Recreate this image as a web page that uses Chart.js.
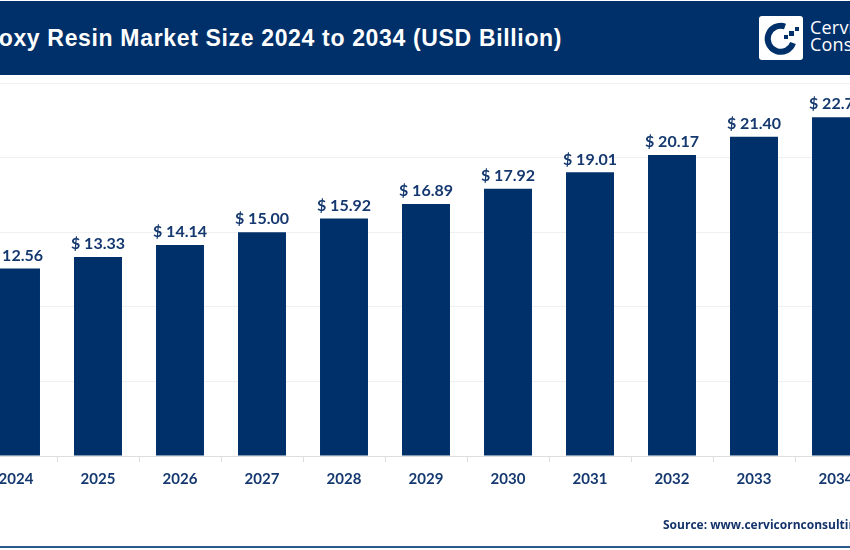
<!DOCTYPE html>
<html>
<head>
<meta charset="utf-8">
<script src="https://cdn.jsdelivr.net/npm/chart.js@4/dist/chart.umd.min.js"></script>
<style>
  html, body { margin: 0; padding: 0; background: #fff; }
  body { position: relative; width: 850px; height: 550px; overflow: hidden; }
  #chart { position: absolute; left: -25px; top: 0; }
  .banner { position: absolute; left: 0; top: 1px; width: 850px; height: 74px; background: #003069; overflow: hidden; }
  .banner h1 {
    position: absolute; left: -32px; top: 24px; margin: 0; white-space: nowrap;
    font: bold 23px "Liberation Sans", Arial, sans-serif; color: #fff; letter-spacing: 0.66px;
  }
  .logo { position: absolute; left: 759px; top: 15px; }
  .brand {
    position: absolute; left: 810px; top: 18px; white-space: nowrap;
    font: 18px/17px "Open Sans", sans-serif; color: #fff; letter-spacing: 0.2px;
  }
  .source {
    position: absolute; left: 663px; top: 516px; white-space: nowrap;
    font: bold 12px "Open Sans", sans-serif; color: #14336b;
  }
  .rule { position: absolute; left: 0; top: 546px; width: 850px; height: 2px; background: #2c5a8c; }
</style>
</head>
<body>
<canvas id="chart" width="902" height="550"></canvas>
<div class="banner">
  <h1>Epoxy Resin Market Size 2024 to 2034 (USD Billion)</h1>
  <svg class="logo" width="44" height="44" viewBox="0 0 44 44">
    <rect width="44" height="44" rx="3" fill="#fff"/>
    <path d="M26 10.5 A13 13 0 1 0 34 27" fill="none" stroke="#003069" stroke-width="6"/>
    <rect x="30" y="15" width="5" height="5" fill="#003069"/>
    <rect x="36" y="11" width="4" height="4" fill="#003069"/>
    <rect x="25" y="19" width="4" height="4" fill="#003069"/>
  </svg>
  <div class="brand">Cervicorn<br>Consulting</div>
</div>
<div class="source">Source: www.cervicornconsulting.com</div>
<div class="rule"></div>

<script>
const years = ["2024", "2025", "2026", "2027", "2028", "2029", "2030", "2031", "2032", "2033", "2034"];
const marketSize = [12.56, 13.33, 14.14, 15.00, 15.92, 16.89, 17.92, 19.01, 20.17, 21.40, 22.71];

const NAVY = "#003069";
const LABEL_COLOR = "#14386f";
const LABEL_FONT = 'bold 16px Lato, sans-serif';

// "$ 12.56" above every bar
const barLabels = {
  id: "barLabels",
  afterDatasetsDraw(chart) {
    const { ctx } = chart;
    ctx.save();
    ctx.font = LABEL_FONT;
    ctx.fillStyle = LABEL_COLOR;
    ctx.textAlign = "center";
    ctx.textBaseline = "bottom";
    chart.getDatasetMeta(0).data.forEach((bar, i) => {
      ctx.fillText(`$ ${marketSize[i].toFixed(2)}`, bar.x, bar.y - 5);
    });
    ctx.restore();
  },
};

new Chart(document.getElementById("chart"), {
  type: "bar",
  data: {
    labels: years,
    datasets: [
      {
        data: marketSize,
        backgroundColor: NAVY,
        categoryPercentage: 1,
        barPercentage: 0.585,
      },
    ],
  },
  options: {
    responsive: false,
    animation: false,
    devicePixelRatio: 1,
    layout: { padding: { top: 83, left: 0, right: 0, bottom: 0 } },
    plugins: { legend: { display: false }, tooltip: { enabled: false } },
    scales: {
      x: {
        afterFit: (scale) => { scale.height = 94; },
        border: { color: "#dedede" },
        grid: { offset: true, drawOnChartArea: false, color: "#dedede", tickLength: 6 },
        ticks: {
          color: LABEL_COLOR,
          font: { family: "Lato", weight: "bold", size: 15 },
          padding: 8,
          autoSkip: false,
          maxRotation: 0,
        },
      },
      y: {
        min: 0,
        max: 25,
        afterFit: (scale) => { scale.width = 0; },
        border: { display: false },
        grid: { color: "#f0f0f0", drawTicks: false },
        ticks: { stepSize: 5, display: false },
      },
    },
  },
  plugins: [barLabels],
});
</script>
</body>
</html>
